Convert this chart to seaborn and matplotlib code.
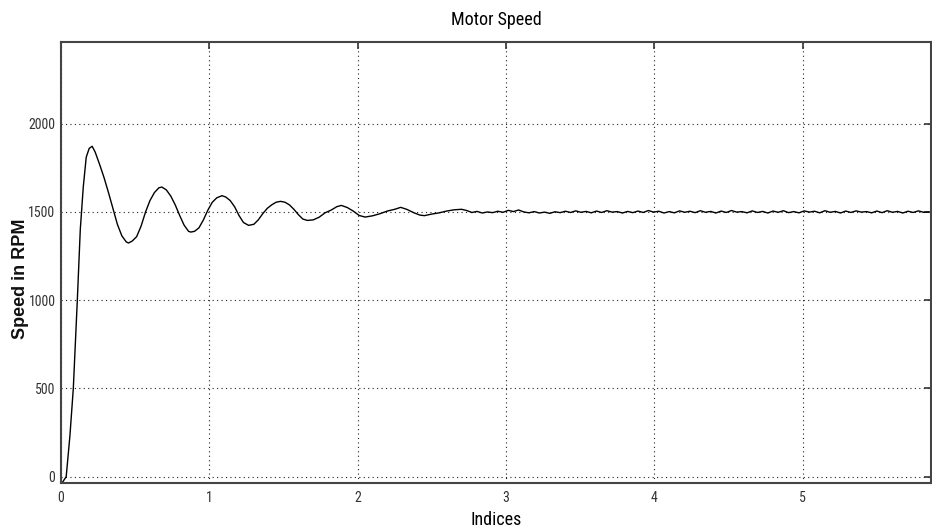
import numpy as np
import pandas as pd
import matplotlib
matplotlib.use("Agg")
import matplotlib.pyplot as plt
from matplotlib import font_manager
import seaborn as sns

# Transient part of the response (time, rpm)
t_transient = [0.0, 0.035, 0.06, 0.083, 0.11, 0.13, 0.15, 0.17, 0.19, 0.21, 0.23, 0.26,
               0.29, 0.32, 0.35, 0.38, 0.41, 0.44, 0.455, 0.48, 0.51, 0.54, 0.57, 0.60,
               0.63, 0.66, 0.68, 0.71, 0.74, 0.77, 0.80, 0.83, 0.86, 0.875, 0.90, 0.93,
               0.96, 0.99, 1.02, 1.05, 1.085, 1.11, 1.14, 1.17, 1.20, 1.23, 1.265, 1.30,
               1.33, 1.36, 1.39, 1.42, 1.45, 1.48, 1.51, 1.54, 1.57, 1.60, 1.63, 1.66,
               1.70, 1.74, 1.78, 1.82, 1.86, 1.89, 1.93, 1.97, 2.01, 2.05, 2.10, 2.15,
               2.20, 2.25, 2.29, 2.33, 2.38, 2.42, 2.45, 2.50, 2.55, 2.60, 2.65]
rpm_transient = [-45, 0, 230, 500, 1000, 1400, 1640, 1810, 1860, 1872, 1840, 1770,
                 1695, 1610, 1520, 1430, 1365, 1330, 1324, 1335, 1360, 1420, 1500, 1565,
                 1610, 1637, 1641, 1625, 1590, 1540, 1480, 1425, 1390, 1386, 1390, 1410,
                 1455, 1510, 1555, 1580, 1592, 1585, 1565, 1530, 1480, 1440, 1424, 1430,
                 1455, 1490, 1520, 1540, 1555, 1560, 1555, 1540, 1515, 1485, 1460, 1452,
                 1455, 1470, 1495, 1510, 1530, 1537, 1525, 1505, 1480, 1471, 1478, 1490,
                 1505, 1515, 1526, 1515, 1495, 1482, 1479, 1488, 1495, 1505, 1512]

# Steady-state ripple, sampled every 0.035 starting at t = 2.70
steady_start = 2.70
steady_step = 0.035
rpm_steady = [1515, 1508, 1497, 1503, 1494, 1500, 1496, 1504, 1498, 1509, 1502, 1511,
              1500, 1495, 1502, 1494, 1499, 1492, 1501, 1496, 1504, 1497, 1506, 1498,
              1503, 1495, 1505, 1497, 1507, 1499, 1502, 1494, 1503, 1496, 1505, 1497,
              1508, 1499, 1504, 1494, 1502, 1495, 1506, 1498, 1504, 1496, 1507, 1498,
              1503, 1494, 1505, 1497, 1508, 1499, 1502, 1495, 1506, 1497, 1503, 1494,
              1505, 1498, 1507, 1496, 1502, 1495, 1506, 1499, 1504, 1495, 1507, 1498,
              1503, 1494, 1505, 1497, 1506, 1499, 1502, 1495, 1505, 1496, 1507, 1498,
              1503, 1494, 1504, 1497, 1506, 1498, 1500]
t_steady = [round(steady_start + i * steady_step, 4) for i in range(len(rpm_steady))]

x_ticks = [0, 1, 2, 3, 4, 5]
y_ticks = [0, 500, 1000, 1500, 2000]

df = pd.DataFrame({"t": t_transient + t_steady, "rpm": rpm_transient + rpm_steady})

sns.set_style("white")
available = {f.name for f in font_manager.fontManager.ttflist}
narrow = [n for n in ["Liberation Sans Narrow", "Roboto Condensed", "DejaVu Sans Condensed",
                      "Open Sans Condensed"] if n in available]
plt.rcParams["font.family"] = narrow + ["Liberation Sans", "DejaVu Sans"]

fig = plt.figure(figsize=(9.32, 5.31), dpi=100)
ax = fig.add_axes([61 / 932, 48 / 531, 870 / 932, 441 / 531])

sns.lineplot(data=df, x="t", y="rpm", ax=ax, color="black", linewidth=1.0,
             estimator=None, sort=False)

ax.set_xlim(0, 5.865)
ax.set_ylim(-36, 2463)
ax.set_xticks(x_ticks)
ax.set_yticks(y_ticks)
ax.set_xticklabels([str(v) for v in x_ticks])
ax.set_yticklabels([str(v) for v in y_ticks])

ax.grid(True, linestyle=(0, (1, 3)), color="#222222", linewidth=0.8)
ax.tick_params(direction="in", length=5, width=1.2, colors="#333333",
               top=True, right=True, labelsize=10, pad=4)
ax.tick_params(axis="x", pad=6)
for sp in ax.spines.values():
    sp.set_color("#444444")
    sp.set_linewidth(1.5)

ax.set_title("Motor Speed", fontsize=13, pad=12, color="black")
ax.set_xlabel("Indices", fontsize=13, labelpad=4, color="black")
ax.set_ylabel("Speed in RPM", fontsize=13, fontweight="bold",
              family=["Liberation Sans", "DejaVu Sans"], color="#111111")
ax.yaxis.set_label_coords(-0.037, 0.463)

fig.savefig("out.png", dpi=100)
